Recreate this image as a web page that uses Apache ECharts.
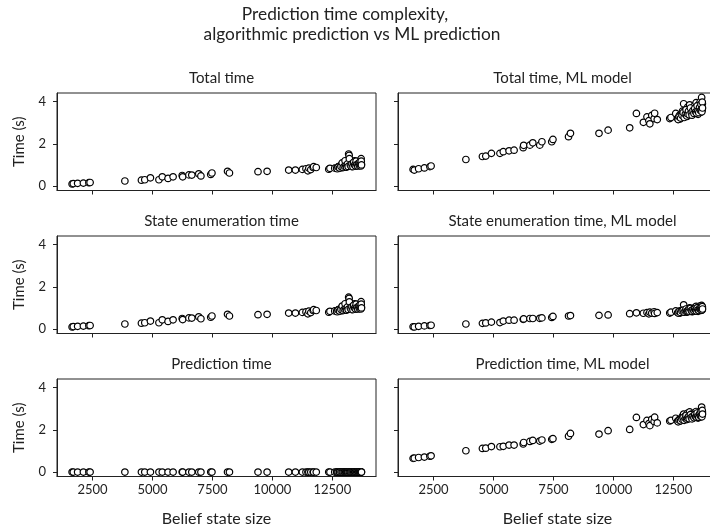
<!DOCTYPE html>
<html>
<head>
<meta charset="utf-8">
<script src="https://cdn.jsdelivr.net/npm/echarts@6/dist/echarts.min.js"></script>
<style>
  html, body { margin: 0; padding: 0; background: #fff; }
  #main { width: 710px; height: 531px; }
</style>
</head>
<body>
<div id="main"></div>
<script>
// belief state size (x) shared by every panel
const beliefSize = [
  1650, 1700, 1880, 2120, 2350, 2400, 3850, 4540, 4680, 4915,
  5270, 5410, 5650, 5860, 6240, 6260, 6520, 6640, 6930, 7020,
  7430, 7480, 8130, 8210, 9400, 9780, 10680, 10960, 11250, 11400,
  11480, 11520, 11600, 11700, 11720, 11830, 12350, 12400, 12600,
  12680, 12720, 12750, 12780, 12820, 12850, 12880, 12900, 12930, 12960,
  12990, 13010, 13040, 13070, 13100, 13120, 13150, 13180, 13200, 13230,
  13260, 13290, 13310, 13340, 13370, 13400, 13420, 13450, 13480, 13500,
  13530, 13550, 13580, 13600, 13620, 13640, 13660, 13680, 13700, 13710,
  12700, 12740, 12800, 12860, 12910, 12950, 13000, 13030, 13060, 13090,
  13130, 13160, 13210, 13250, 13280, 13320, 13360, 13390, 13430, 13460,
  13490, 13520, 13560, 13590, 13630, 13650, 13670, 13690, 13705, 13715
]

const totalTime = [
  0.10, 0.12, 0.13, 0.14, 0.16, 0.17, 0.24, 0.28, 0.30, 0.39,
  0.30, 0.44, 0.36, 0.44, 0.50, 0.44, 0.53, 0.52, 0.58, 0.48,
  0.55, 0.62, 0.70, 0.62, 0.68, 0.70, 0.76, 0.76, 0.79, 0.82,
  0.72, 0.85, 0.78, 0.88, 0.92, 0.88, 0.80, 0.84, 0.85,
  0.85, 0.88, 0.92, 0.84, 0.95, 0.90, 1.00, 0.87, 0.96, 1.05,
  0.92, 0.98, 1.10, 0.90, 1.02, 1.15, 1.25, 1.52, 1.45, 0.95,
  1.08, 1.00, 0.92, 1.12, 0.98, 1.05, 1.20, 0.95, 1.00, 1.10,
  0.96, 1.02, 1.15, 1.00, 1.05, 0.98, 1.10, 1.22, 1.30, 1.05,
  0.82, 0.90, 0.86, 0.93, 1.10, 0.88, 0.94, 1.20, 0.97, 0.90,
  1.05, 0.93, 1.30, 1.00, 0.94, 1.06, 0.92, 1.13, 1.00, 0.96,
  1.18, 1.02, 0.95, 1.08, 0.97, 1.14, 1.04, 0.95, 1.18, 1.00
]

const enumTime = [
  0.10, 0.12, 0.13, 0.14, 0.16, 0.17, 0.24, 0.28, 0.30, 0.38,
  0.30, 0.44, 0.36, 0.44, 0.50, 0.45, 0.53, 0.52, 0.58, 0.49,
  0.56, 0.62, 0.70, 0.62, 0.68, 0.70, 0.76, 0.76, 0.79, 0.81,
  0.72, 0.85, 0.78, 0.88, 0.92, 0.88, 0.80, 0.84, 0.86,
  0.85, 0.88, 0.92, 0.84, 0.95, 0.90, 1.00, 0.87, 0.96, 1.05,
  0.92, 0.98, 1.10, 0.90, 1.02, 1.15, 1.25, 1.51, 1.45, 0.95,
  1.08, 1.00, 0.92, 1.12, 0.98, 1.05, 1.20, 0.95, 1.00, 1.10,
  0.96, 1.02, 1.15, 1.00, 1.05, 0.98, 1.10, 1.22, 1.30, 1.05,
  0.82, 0.90, 0.86, 0.93, 1.09, 0.88, 0.94, 1.20, 0.97, 0.90,
  1.05, 0.93, 1.29, 1.00, 0.94, 1.06, 0.92, 1.13, 1.00, 0.96,
  1.18, 1.02, 0.95, 1.08, 0.97, 1.14, 1.04, 0.95, 1.18, 1.00
]

const predTime = [
  0.001, 0.001, 0.001, 0.001, 0.001, 0.001, 0.001, 0.001, 0.001, 0.001,
  0.001, 0.001, 0.001, 0.001, 0.001, 0.001, 0.001, 0.001, 0.001, 0.001,
  0.001, 0.001, 0.001, 0.001, 0.001, 0.001, 0.001, 0.001, 0.001, 0.001,
  0.001, 0.001, 0.001, 0.001, 0.001, 0.001, 0.001, 0.001, 0.001,
  0.001, 0.001, 0.001, 0.001, 0.001, 0.001, 0.001, 0.001, 0.001, 0.001,
  0.001, 0.001, 0.001, 0.001, 0.001, 0.001, 0.001, 0.001, 0.001, 0.001,
  0.001, 0.001, 0.001, 0.001, 0.001, 0.001, 0.001, 0.001, 0.001, 0.001,
  0.001, 0.001, 0.001, 0.001, 0.001, 0.001, 0.001, 0.001, 0.001, 0.001,
  0.001, 0.001, 0.001, 0.001, 0.001, 0.001, 0.001, 0.001, 0.001, 0.001,
  0.001, 0.001, 0.001, 0.001, 0.001, 0.001, 0.001, 0.001, 0.001, 0.001,
  0.001, 0.001, 0.001, 0.001, 0.001, 0.001, 0.001, 0.001, 0.001, 0.001
]

const mlTotalTime = [
  0.79, 0.76, 0.82, 0.86, 0.92, 0.95, 1.26, 1.40, 1.42, 1.55,
  1.55, 1.63, 1.67, 1.70, 1.82, 1.93, 1.94, 2.05, 1.94, 2.10,
  2.10, 2.21, 2.34, 2.50, 2.50, 2.65, 2.76, 3.44, 3.02, 3.28,
  3.10, 2.95, 3.35, 3.20, 3.45, 3.15, 3.20, 3.25, 3.44,
  3.20, 3.25, 3.35, 3.18, 3.40, 3.30, 3.55, 3.28, 3.90, 3.45,
  3.35, 3.60, 3.50, 3.30, 3.75, 3.45, 3.60, 3.85, 3.40, 3.55,
  3.70, 3.38, 3.65, 3.50, 3.80, 3.45, 3.60, 3.95, 3.50, 3.70,
  3.40, 3.85, 3.55, 3.65, 4.00, 3.50, 3.75, 4.20, 3.60, 3.90,
  3.15, 3.28, 3.22, 3.35, 3.48, 3.25, 3.40, 3.62, 3.32, 3.42,
  3.55, 3.38, 3.70, 3.48, 3.36, 3.58, 3.44, 3.68, 3.52, 3.46,
  3.80, 3.55, 3.48, 3.72, 3.58, 3.88, 3.62, 3.52, 3.98, 3.70
]

const mlEnumTime = [
  0.11, 0.10, 0.13, 0.15, 0.17, 0.18, 0.24, 0.27, 0.29, 0.33,
  0.31, 0.38, 0.42, 0.42, 0.46, 0.48, 0.50, 0.50, 0.51, 0.53,
  0.55, 0.60, 0.62, 0.64, 0.65, 0.67, 0.73, 0.77, 0.75, 0.78,
  0.72, 0.80, 0.76, 0.82, 0.74, 0.78, 0.76, 0.80, 0.86,
  0.78, 0.80, 0.85, 0.76, 0.88, 0.82, 0.90, 0.80, 1.15, 0.85,
  0.82, 0.92, 0.88, 0.80, 0.95, 0.85, 0.90, 1.00, 0.84, 0.88,
  0.95, 0.82, 0.92, 0.86, 1.00, 0.85, 0.90, 1.08, 0.86, 0.95,
  0.84, 1.05, 0.90, 0.92, 1.10, 0.88, 0.98, 1.12, 0.90, 1.05,
  0.76, 0.82, 0.79, 0.86, 0.90, 0.80, 0.85, 0.95, 0.83, 0.87,
  0.92, 0.85, 0.98, 0.88, 0.84, 0.93, 0.87, 0.96, 0.90, 0.86,
  1.00, 0.91, 0.88, 0.97, 0.92, 1.02, 0.94, 0.90, 1.06, 0.95
]

const mlPredTime = [
  0.65, 0.66, 0.69, 0.71, 0.75, 0.77, 1.01, 1.12, 1.13, 1.21,
  1.20, 1.22, 1.28, 1.28, 1.33, 1.40, 1.45, 1.50, 1.47, 1.52,
  1.55, 1.58, 1.70, 1.83, 1.80, 1.96, 2.02, 2.59, 2.25, 2.45,
  2.30, 2.20, 2.50, 2.40, 2.60, 2.33, 2.42, 2.45, 2.55,
  2.42, 2.45, 2.50, 2.42, 2.52, 2.48, 2.65, 2.48, 2.75, 2.60,
  2.53, 2.68, 2.62, 2.50, 2.80, 2.60, 2.70, 2.85, 2.56, 2.67,
  2.75, 2.56, 2.73, 2.64, 2.80, 2.60, 2.70, 2.87, 2.64, 2.75,
  2.56, 2.80, 2.65, 2.73, 2.90, 2.62, 2.77, 3.08, 2.70, 2.85,
  2.38, 2.46, 2.43, 2.50, 2.58, 2.45, 2.55, 2.68, 2.49, 2.55,
  2.63, 2.53, 2.72, 2.60, 2.52, 2.65, 2.57, 2.72, 2.62, 2.60,
  2.80, 2.64, 2.60, 2.75, 2.66, 2.86, 2.68, 2.62, 2.92, 2.75
]

const panelTitles = [
  'Total time', 'Total time, ML model',
  'State enumeration time', 'State enumeration time, ML model',
  'Prediction time', 'Prediction time, ML model'
]
const panelValues = [totalTime, mlTotalTime, enumTime, mlEnumTime, predTime, mlPredTime]
const xTicks = [2500, 5000, 7500, 10000, 12500]
const yTicks = [0, 2, 4]

const font = 'Lato'
const ink = '#222'
const lefts = [57, 398]
const tops = [93, 236, 379]
const panelW = 319
const panelH = 97.5

var chartDom = document.getElementById('main')
var myChart = echarts.init(chartDom)

const grids = []
const xAxes = []
const yAxes = []
const series = []
const titles = [
  { text: 'Prediction time complexity,', left: 340, top: 1, textAlign: 'center',
    textStyle: { fontFamily: font, fontSize: 17.3, fontWeight: 'normal', color: ink } },
  { text: 'algorithmic prediction vs ML prediction', left: 347, top: 21, textAlign: 'center',
    textStyle: { fontFamily: font, fontSize: 17.3, fontWeight: 'normal', color: ink } }
]

for (let i = 0; i < 6; i++) {
  const row = Math.floor(i / 2)
  const col = i % 2
  grids.push({
    left: lefts[col], top: tops[row], width: panelW, height: panelH,
    outerBoundsMode: 'none',
    show: true, borderColor: ink, borderWidth: 1, backgroundColor: 'transparent'
  })
  titles.push({
    text: panelTitles[i], left: lefts[col] + panelW / 2, top: tops[row] - 27, textAlign: 'center',
    textStyle: { fontFamily: font, fontSize: 15, fontWeight: 'normal', color: ink }
  })
  xAxes.push({
    type: 'value', gridIndex: i, min: 1020, max: 14320,
    name: row === 2 ? 'Belief state size' : '',
    nameLocation: 'middle', nameGap: 34,
    nameTextStyle: { fontFamily: font, fontSize: 16, color: ink },
    axisLine: { show: true, onZero: false, lineStyle: { color: ink, width: 1 } },
    axisTick: { show: true, inside: false, length: 4, customValues: xTicks, lineStyle: { color: ink } },
    axisLabel: {
      show: row === 2, customValues: xTicks, margin: 7, fontFamily: font, fontSize: 13, color: ink,
      formatter: v => String(v)
    },
    splitLine: { show: false }
  })
  yAxes.push({
    type: 'value', gridIndex: i, min: -0.21, max: 4.41,
    name: col === 0 ? 'Time (s)' : '',
    nameLocation: 'middle', nameGap: 30,
    nameTextStyle: { fontFamily: font, fontSize: 15, color: ink },
    axisLine: { show: true, onZero: false, lineStyle: { color: ink, width: 1 } },
    axisTick: { show: true, inside: false, length: 4, customValues: yTicks, lineStyle: { color: ink } },
    axisLabel: {
      show: col === 0, customValues: yTicks, margin: 11, fontFamily: font, fontSize: 13, color: ink,
      formatter: v => String(v)
    },
    splitLine: { show: false }
  })
  const vals = panelValues[i]
  series.push({
    type: 'scatter', xAxisIndex: i, yAxisIndex: i,
    symbol: 'circle', symbolSize: 6.5,
    itemStyle: { color: '#fff', borderColor: '#000', borderWidth: 1.2, opacity: 1 },
    data: beliefSize.map((x, k) => [x, vals[k]])
  })
}

myChart.setOption({
  animation: false,
  backgroundColor: '#fff',
  title: titles,
  grid: grids,
  xAxis: xAxes,
  yAxis: yAxes,
  series: series
})
</script>
</body>
</html>
